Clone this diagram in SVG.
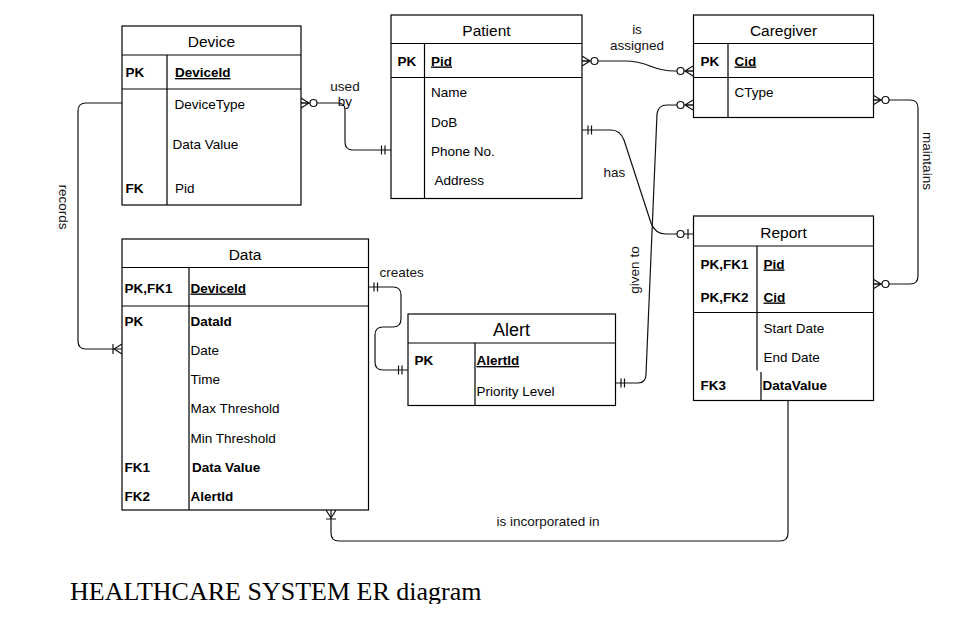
<svg xmlns="http://www.w3.org/2000/svg" width="972" height="629" viewBox="0 0 972 629">
<style>
  .box{fill:#fff;stroke:#000;stroke-width:1.2}
  .ln{fill:none;stroke:#000;stroke-width:1.2}
  .t{font-family:"Liberation Sans",Arial,sans-serif;font-size:13.5px;fill:#000}
  .b{font-weight:bold}
  .u{text-decoration:underline}
  .h{font-family:"Liberation Sans",Arial,sans-serif;font-size:15.5px;fill:#000;text-anchor:middle}
  .c{stroke:#111;stroke-width:1.2;fill:none}
  .lbl{font-family:"Liberation Sans",Arial,sans-serif;font-size:13.5px;fill:#111}
  .mk{fill:none;stroke:#111;stroke-width:1.2}
  .mkc{fill:#fff;stroke:#111;stroke-width:1.2}
</style>
<defs>
  <marker id="zeroMany" markerUnits="userSpaceOnUse" viewBox="-20 -8 22 16" refX="0" refY="0" markerWidth="22" markerHeight="16" orient="auto-start-reverse" overflow="visible">
    <path class="mk" d="M-8,0 L0,-5 M-8,0 L0,0 M-8,0 L0,5"/>
    <circle class="mkc" cx="-12.5" cy="0" r="3.5"/>
  </marker>
  <marker id="mandOne" markerUnits="userSpaceOnUse" viewBox="-20 -8 22 16" refX="0" refY="0" markerWidth="22" markerHeight="16" orient="auto-start-reverse" overflow="visible">
    <path class="mk" d="M-6,-4.5 L-6,4.5 M-9.5,-4.5 L-9.5,4.5"/>
  </marker>
  <marker id="zeroOne" markerUnits="userSpaceOnUse" viewBox="-20 -8 22 16" refX="0" refY="0" markerWidth="22" markerHeight="16" orient="auto-start-reverse" overflow="visible">
    <path class="mk" d="M-5,-5 L-5,5"/>
    <circle class="mkc" cx="-12.5" cy="0" r="3.5"/>
  </marker>
  <marker id="oneMany" markerUnits="userSpaceOnUse" viewBox="-20 -8 22 16" refX="0" refY="0" markerWidth="22" markerHeight="16" orient="auto-start-reverse" overflow="visible">
    <path class="mk" d="M-8,0 L0,-5 M-8,0 L0,5 M-9,-5 L-9,5"/>
  </marker>
  <clipPath id="titleClip"><rect x="0" y="560" width="972" height="44"/></clipPath>
</defs>

<g id="connectors">
  <path class="c" d="M122,103 L86,103 Q78,103 78,111 L78,341 Q78,349 86,349 L122,349" marker-end="url(#oneMany)"/>
  <path class="c" d="M301,103 L338,103 Q345,103 345,110 L345,142 Q345,150 353,150 L391,150" marker-start="url(#zeroMany)" marker-end="url(#mandOne)"/>
  <path class="c" d="M582,61 L625,61 C650,61 650,71 675,71 L693,71" marker-start="url(#zeroMany)" marker-end="url(#zeroMany)"/>
  <path class="c" d="M582,130 L611,130 Q620,130 624,140 L651,223 Q655,234 666,234 L693,234" marker-start="url(#mandOne)" marker-end="url(#zeroOne)"/>
  <path class="c" d="M615,383 L638,383 Q646,383 646,374 L657,114 Q658,105 667,105 L693,105" marker-start="url(#mandOne)" marker-end="url(#zeroMany)"/>
  <path class="c" d="M368,287 L393,287 Q401,287 401,295 L401,319 Q401,327 393,327 L383,327 Q375,327 375,335 L375,362 Q375,370 383,370 L408,370" marker-start="url(#mandOne)" marker-end="url(#mandOne)"/>
  <path class="c" d="M873,100 L910,100 Q918,100 918,108 L918,276 Q918,284 910,284 L873,284" marker-start="url(#zeroMany)" marker-end="url(#zeroMany)"/>
  <path class="c" d="M788,401 L788,533 Q788,541 780,541 L339,541 Q331,541 331,533 L331,510" marker-end="url(#oneMany)"/>
  <text class="lbl" transform="translate(63,207) rotate(90)" y="4.5" text-anchor="middle">records</text>
  <text class="lbl" x="345" y="91" text-anchor="middle">used</text>
  <text class="lbl" x="345" y="106" text-anchor="middle">by</text>
  <text class="lbl" x="637" y="34" text-anchor="middle">is</text>
  <text class="lbl" x="637" y="49.5" text-anchor="middle">assigned</text>
  <text class="lbl" x="603.5" y="177">has</text>
  <text class="lbl" x="379.5" y="277">creates</text>
  <text class="lbl" transform="translate(634,270) rotate(-90)" y="4.5" text-anchor="middle">given to</text>
  <text class="lbl" transform="translate(927,161) rotate(90)" y="4.5" text-anchor="middle">maintains</text>
  <text class="lbl" x="548" y="526" text-anchor="middle">is incorporated in</text>
</g>

<g id="device">
  <rect class="box" x="122" y="26" width="179" height="179"/>
  <path class="ln" d="M122,55 L301,55 M122,89 L301,89 M167,55 L167,205"/>
  <text class="h" x="211.5" y="46.5">Device</text>
  <text class="t b" x="125.5" y="77">PK</text>
  <text class="t b u" x="175" y="77">DeviceId</text>
  <text class="t" x="174.5" y="108.5">DeviceType</text>
  <text class="t" x="172.5" y="149">Data Value</text>
  <text class="t b" x="125.5" y="193">FK</text>
  <text class="t" x="175" y="193">Pid</text>
</g>

<g id="patient">
  <rect class="box" x="391" y="15" width="191" height="183.5"/>
  <path class="ln" d="M391,43.5 L582,43.5 M391,77.5 L582,77.5 M424.5,43.5 L424.5,198.5"/>
  <text class="h" x="486.5" y="36">Patient</text>
  <text class="t b" x="397.5" y="65.5">PK</text>
  <text class="t b u" x="431" y="65.5">Pid</text>
  <text class="t" x="431" y="97">Name</text>
  <text class="t" x="431" y="126.5">DoB</text>
  <text class="t" x="431" y="155.5">Phone No.</text>
  <text class="t" x="434.5" y="185">Address</text>
</g>

<g id="caregiver">
  <rect class="box" x="693.5" y="15" width="180" height="102.5"/>
  <path class="ln" d="M693.5,43.5 L873.5,43.5 M693.5,77.5 L873.5,77.5 M728,43.5 L728,117.5"/>
  <text class="h" x="783.5" y="36">Caregiver</text>
  <text class="t b" x="700.5" y="65.5">PK</text>
  <text class="t b u" x="734.5" y="65.5">Cid</text>
  <text class="t" x="734.5" y="97">CType</text>
</g>

<g id="report">
  <rect class="box" x="693.5" y="216" width="180" height="184.5"/>
  <path class="ln" d="M693.5,246 L873.5,246 M693.5,312.5 L873.5,312.5 M757,246 L757,370.5 M761,372 L761,400.5"/>
  <text class="h" x="783.5" y="237.5">Report</text>
  <text class="t b" x="700.5" y="268.5">PK,FK1</text>
  <text class="t b u" x="763.5" y="268.5">Pid</text>
  <text class="t b" x="700.5" y="301.5">PK,FK2</text>
  <text class="t b u" x="763.5" y="301.5">Cid</text>
  <text class="t" x="763.5" y="332.5">Start Date</text>
  <text class="t" x="763.5" y="361.5">End Date</text>
  <text class="t b" x="700.5" y="390">FK3</text>
  <text class="t b" x="762.5" y="390">DataValue</text>
</g>

<g id="data">
  <rect class="box" x="122" y="239" width="246.5" height="271"/>
  <path class="ln" d="M122,267.5 L368.5,267.5 M122,306 L368.5,306 M189,267.5 L189,510"/>
  <text class="h" x="245" y="259.5">Data</text>
  <text class="t b" x="124.5" y="292.5">PK,FK1</text>
  <text class="t b u" x="190.5" y="292.5">DeviceId</text>
  <text class="t b" x="124.5" y="325.5">PK</text>
  <text class="t b" x="190.5" y="325.5">DataId</text>
  <text class="t" x="190.5" y="355">Date</text>
  <text class="t" x="190.5" y="384">Time</text>
  <text class="t" x="190.5" y="413">Max Threshold</text>
  <text class="t" x="190.5" y="442.5">Min Threshold</text>
  <text class="t b" x="124.5" y="471.5">FK1</text>
  <text class="t b" x="192" y="471.5">Data Value</text>
  <text class="t b" x="124.5" y="500.5">FK2</text>
  <text class="t b" x="190.5" y="500.5">AlertId</text>
</g>

<g id="alert">
  <rect class="box" x="408" y="314" width="207.5" height="91.5"/>
  <path class="ln" d="M408,343 L615.5,343 M475,343 L475,405.5"/>
  <text class="h" x="511.5" y="335.5" style="font-size:18px">Alert</text>
  <text class="t b" x="414.5" y="365">PK</text>
  <text class="t b u" x="476.5" y="365">AlertId</text>
  <text class="t" x="476.5" y="396">Priority Level</text>
</g>

<g id="title" clip-path="url(#titleClip)">
  <text x="70" y="600" style="font-family:'Liberation Serif','Times New Roman',serif;font-size:26px;fill:#000">HEALTHCARE SYSTEM ER diagram</text>
</g>
</svg>
